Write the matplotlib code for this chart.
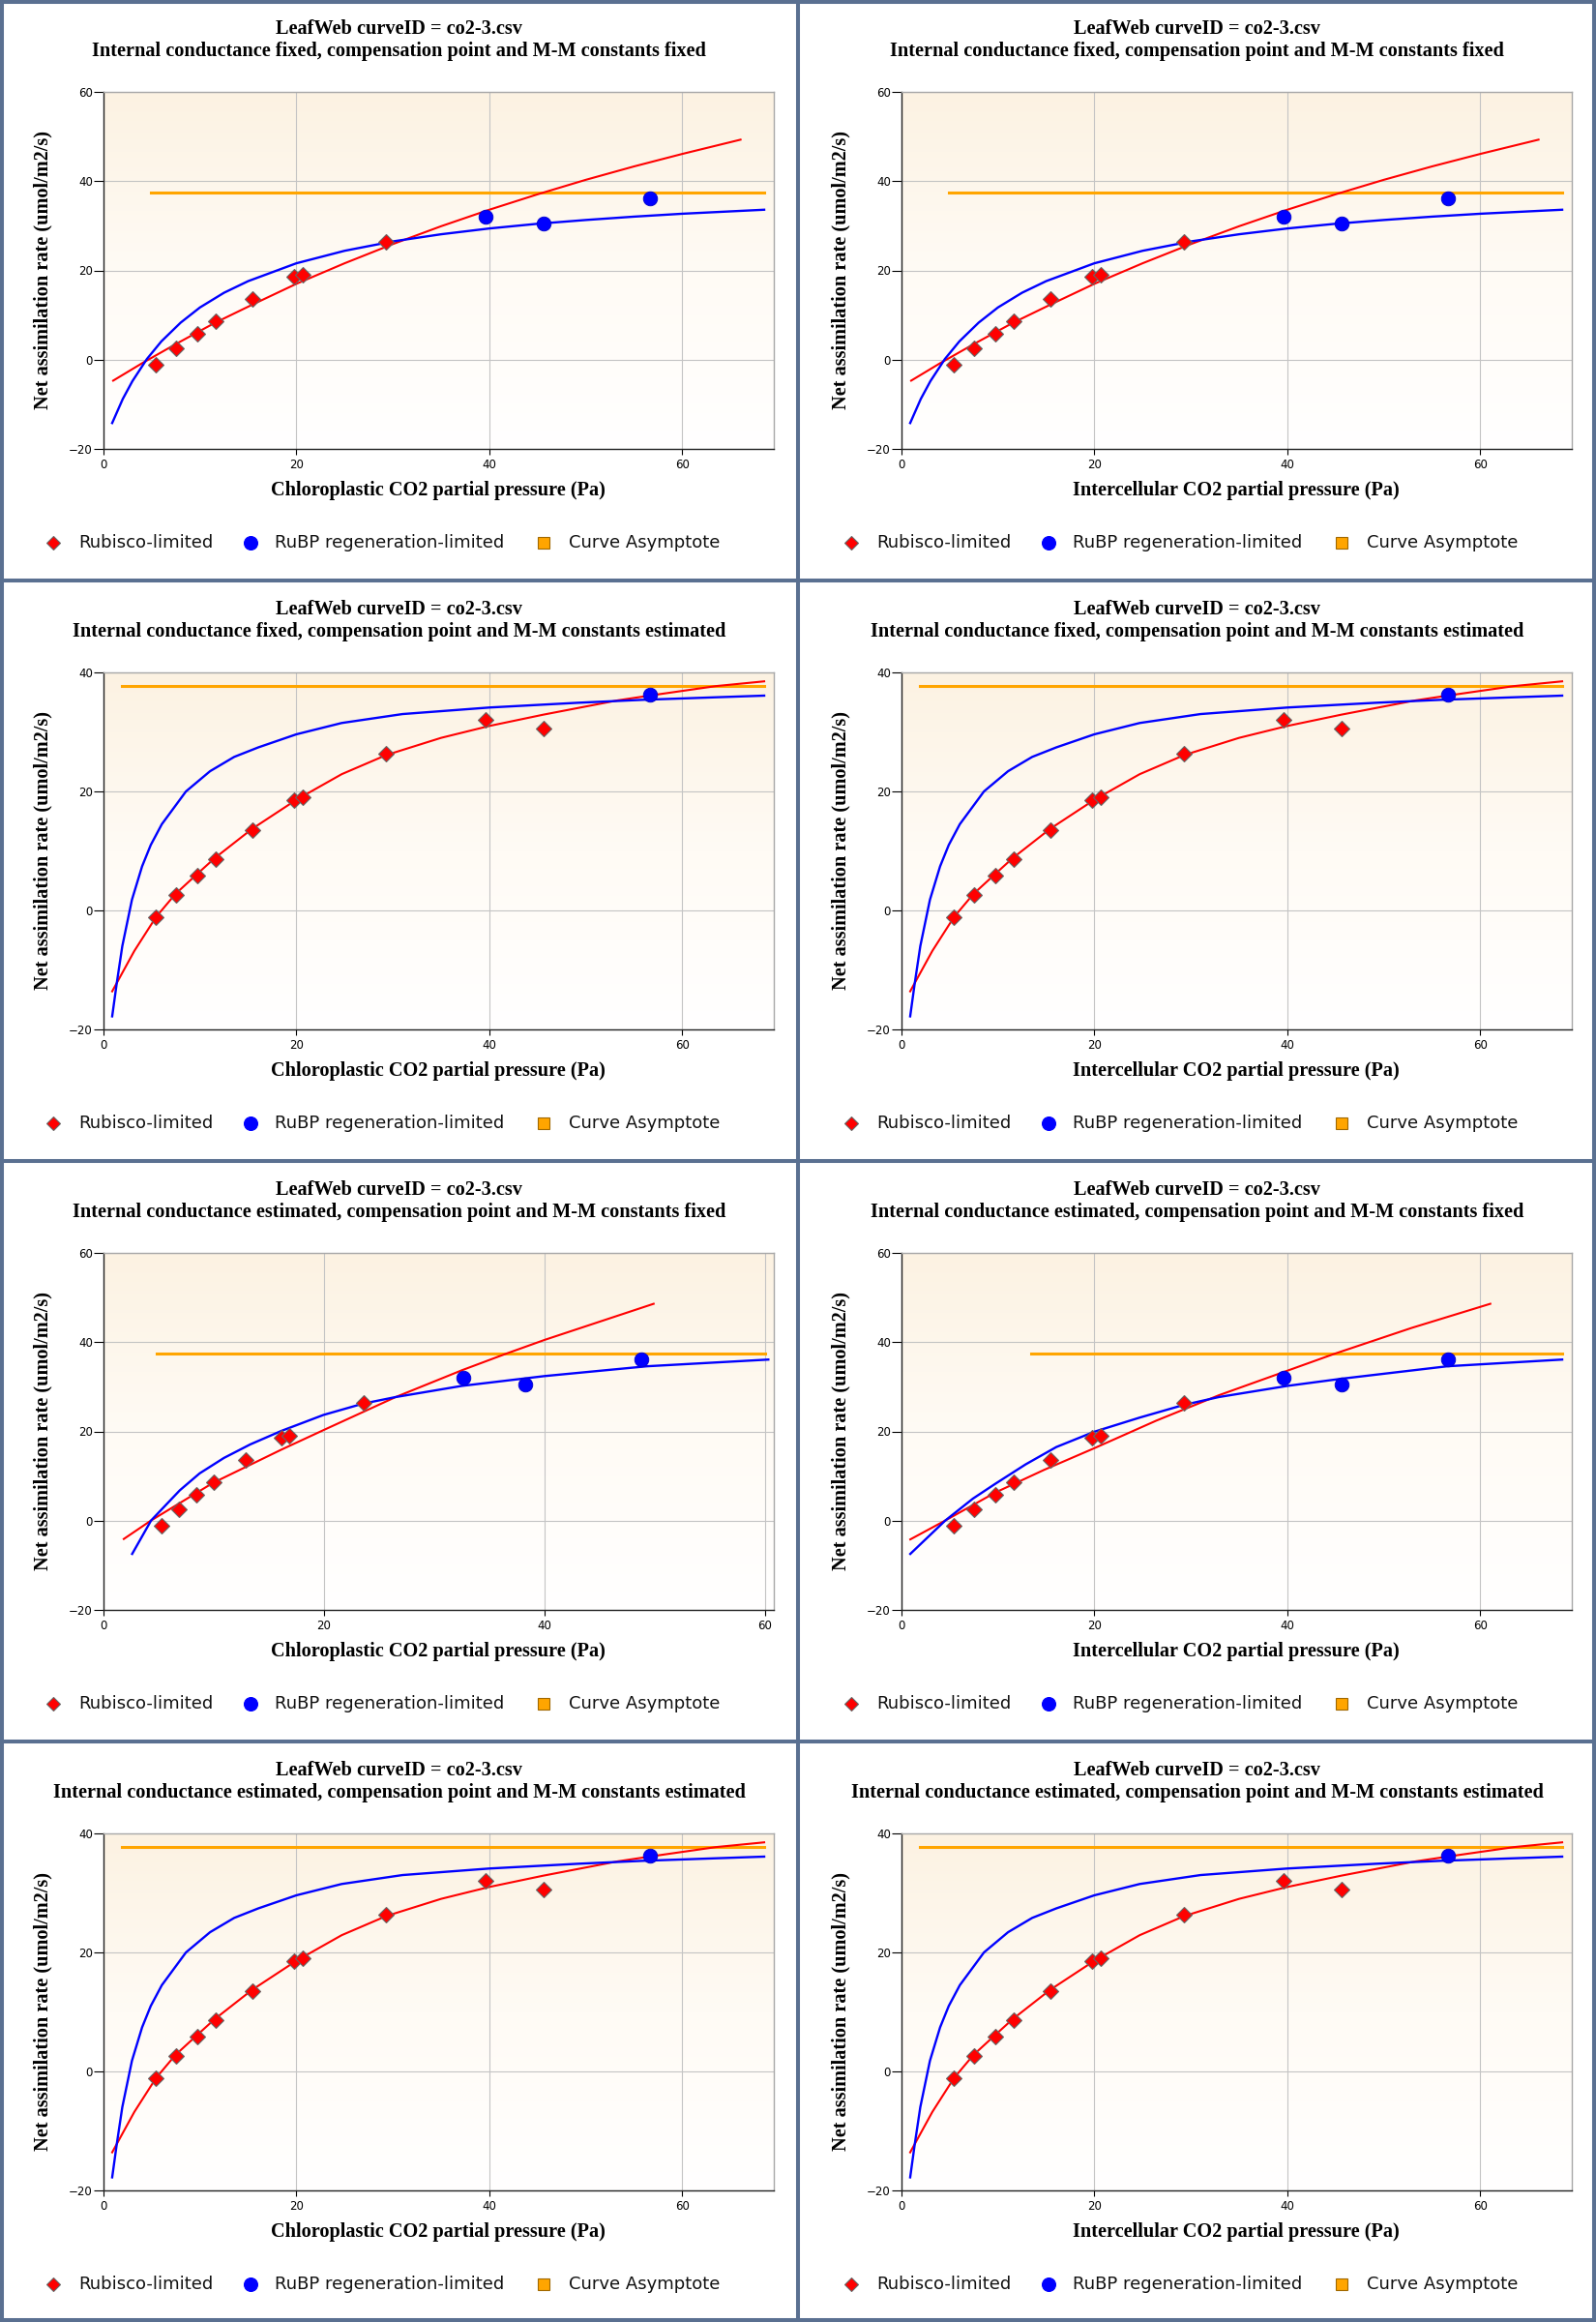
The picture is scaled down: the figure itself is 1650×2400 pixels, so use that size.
import numpy as np
import matplotlib
matplotlib.use("Agg")
import matplotlib.pyplot as plt
from matplotlib.lines import Line2D
from matplotlib.colors import LinearSegmentedColormap

# ---------------- data ----------------
# observed points (same A values in every panel)
a_obs = [-1.2, 2.65, 5.85, 8.55, 13.5, 18.55, 18.95, 26.4, 32.1, 30.5, 36.2]
# CO2 partial pressure of the points, internal conductance fixed (Cc = Ci)
c_obs_fixed = [5.45, 7.5, 9.7, 11.6, 15.4, 19.75, 20.7, 29.3, 39.65, 45.65, 56.65]
# chloroplastic CO2 when the internal conductance is estimated
c_obs_gm = [5.23, 6.8, 8.45, 9.96, 12.86, 16.13, 16.84, 23.58, 32.67, 38.27, 48.74]
# which limitation each point was assigned to
lim_fixed = ["rubisco"] * 8 + ["rubp"] * 3
lim_est = ["rubisco"] * 10 + ["rubp"] * 1

# fit A: gm fixed, compensation point / M-M fixed
a_red_x = [1, 4, 7.5, 11.5, 15.5, 20, 25, 30, 35, 40, 45, 50, 55, 60, 66.05]
a_red_y = [-4.7, -0.8, 3.5, 8.2, 12.4, 17.0, 21.6, 25.9, 29.9, 33.6, 37.05, 40.3, 43.3, 46.1, 49.3]
a_blue_x = [0.9, 2, 3, 4.5, 6, 8, 10, 12.5, 15, 20, 25, 30, 35, 40, 45, 50, 55, 60, 68.5]
a_blue_y = [-14.2, -8.8, -4.8, 0.15, 4.1, 8.3, 11.7, 15.0, 17.6, 21.6, 24.4, 26.5, 28.1, 29.4,
            30.45, 31.3, 32.05, 32.7, 33.6]
a_asym_x = [4.9, 68.5]
a_asym_y = 37.5

# fit B: compensation point / M-M estimated (same in both gm cases)
b_red_x = [0.9, 3.2, 5.45, 7.45, 9.7, 11.5, 15.4, 20, 24.7, 29.3, 35, 40, 45.6, 53.3, 56.6, 63.5, 68.5]
b_red_y = [-13.6, -6.8, -1.1, 2.75, 6.1, 8.75, 13.7, 18.6, 22.9, 26.1, 29.0, 31.0, 32.9, 35.3, 36.1, 37.7, 38.5]
b_blue_x = [0.9, 1.35, 1.95, 2.95, 4.0, 4.9, 6.05, 8.55, 11.05, 13.55, 16.05, 20, 24.7, 31, 40, 49.2, 56, 68.5]
b_blue_y = [-17.8, -12.5, -6.0, 1.8, 7.4, 11.0, 14.5, 20.0, 23.4, 25.8, 27.4, 29.6, 31.5, 33.0, 34.1,
            34.9, 35.4, 36.1]
b_asym_x = [1.95, 68.5]
b_asym_y = 37.7

# fit C: gm estimated, chloroplastic axis
c_red_x = [1.84, 4.32, 9.92, 16.12, 19.96, 26.5, 32.5, 36.5, 40, 49.9]
c_red_y = [-4.1, 0.05, 8.45, 15.9, 20.3, 27.7, 33.7, 37.4, 40.5, 48.6]
c_blue_x = [2.6, 4.32, 6.92, 8.72, 10.92, 13.32, 16.12, 19.96, 23.5, 26.5, 32.5, 40, 49.3, 60.3]
c_blue_y = [-7.45, 0.05, 6.8, 10.6, 14.05, 17.1, 20.1, 23.7, 26.2, 27.7, 30.2, 32.4, 34.6, 36.1]
c_asym_x = [4.84, 60.0]
c_asym_y = 37.5

# fit D: gm estimated, intercellular axis
d_red_x = [0.91, 4.55, 9.68, 14.8, 19.95, 26.4, 32.9, 40, 44.9, 52.9, 61.05]
d_red_y = [-4.2, 0.05, 6.25, 11.4, 16.2, 22.4, 28.1, 33.6, 37.4, 43.2, 48.6]
d_blue_x = [0.91, 4.55, 7.41, 9.68, 12.86, 16.05, 19.95, 24.7, 29.2, 32.9, 40, 45.6, 56.6, 68.5]
d_blue_y = [-7.45, 0.05, 4.95, 8.2, 12.6, 16.5, 19.9, 23.1, 25.9, 27.7, 30.2, 31.8, 34.6, 36.1]
d_asym_x = [13.4, 68.5]
d_asym_y = 37.5

title1 = "LeafWeb curveID = co2-3.csv"
subtitles = [
    "Internal conductance fixed, compensation point and M-M constants fixed",
    "Internal conductance fixed, compensation point and M-M constants estimated",
    "Internal conductance estimated, compensation point and M-M constants fixed",
    "Internal conductance estimated, compensation point and M-M constants estimated",
]
xlab_cc = "Chloroplastic CO2 partial pressure (Pa)"
xlab_ci = "Intercellular CO2 partial pressure (Pa)"
ylab = "Net assimilation rate (umol/m2/s)"
leg_labels = ["Rubisco-limited", "RuBP regeneration-limited", "Curve Asymptote"]

RED = "#ff0000"
BLUE = "#0000ff"
ORANGE = "#ffa500"
BORDER = "#5a7091"
SERIF = "Liberation Serif"
TFS = 14.6

W, H = 1650, 2400
PW, PH = 825, 600
fig = plt.figure(figsize=(W / 100, H / 100), dpi=100)
fig.patch.set_facecolor("white")

bg = LinearSegmentedColormap.from_list("bg", ["#ffffff", "#fffbf5", "#fcf2e2"])
grad = np.linspace(0, 1, 256).reshape(-1, 1)


def fx(px):
    return px / W


def fy(py):
    return 1 - py / H


def draw_panel(col, row, c_obs, lims, red, blue, asym, ylim, xmax, xlabel, sub):
    x0, y0 = col * PW, row * PH
    ax = fig.add_axes([fx(x0 + 107), fy(y0 + 464), 693 / W, 369 / H])
    ax.imshow(grad, extent=[0, 1, 0, 1], transform=ax.transAxes, origin="lower",
              aspect="auto", cmap=bg, zorder=0)
    ax.grid(True, color="#c4c4c4", lw=0.8, zorder=1)
    ax.set_axisbelow(True)

    ax.plot(asym[0], [asym[1]] * len(asym[0]), color=ORANGE, lw=2.2, zorder=3)
    ax.plot(red[0], red[1], color=RED, lw=1.5, zorder=4)
    ax.plot(blue[0], blue[1], color=BLUE, lw=1.7, zorder=4)

    rx = [c for c, l in zip(c_obs, lims) if l == "rubisco"]
    ry = [a for a, l in zip(a_obs, lims) if l == "rubisco"]
    jx = [c for c, l in zip(c_obs, lims) if l == "rubp"]
    jy = [a for a, l in zip(a_obs, lims) if l == "rubp"]
    ax.plot(rx, ry, ls="none", marker="D", ms=8, mfc=RED, mec="#666666", mew=0.8, zorder=5)
    ax.plot(jx, jy, ls="none", marker="o", ms=10.5, mfc=BLUE, mec="#0000cc", mew=0.6, zorder=5)

    ax.set_xlim(0, xmax)
    ax.set_ylim(*ylim)
    ax.set_xticks([0, 20, 40, 60])
    ax.set_yticks(list(range(ylim[0], ylim[1] + 1, 20)))
    ax.tick_params(axis="y", direction="out", length=7, width=0.8, pad=1, labelsize=8.5)
    ax.tick_params(axis="x", direction="out", length=4.5, width=0.8, pad=3, labelsize=8.5)
    for s in ["left", "bottom"]:
        ax.spines[s].set_color("#222222")
        ax.spines[s].set_linewidth(1.0)
    for s in ["top", "right"]:
        ax.spines[s].set_color("#a8a8a8")
        ax.spines[s].set_linewidth(1.0)

    cx = x0 + PW / 2
    fig.text(fx(cx), fy(y0 + 30), title1, ha="center", va="center",
             family=SERIF, weight="bold", fontsize=TFS)
    fig.text(fx(cx), fy(y0 + 53), sub, ha="center", va="center",
             family=SERIF, weight="bold", fontsize=TFS)
    fig.text(fx(x0 + 453), fy(y0 + 507), xlabel, ha="center", va="center",
             family=SERIF, weight="bold", fontsize=TFS)
    fig.text(fx(x0 + 44), fy(y0 + 279), ylab, ha="center", va="center", rotation=90,
             family=SERIF, weight="bold", fontsize=TFS)

    # legend row
    ly = fy(y0 + 561)
    items = [(55, 81, "D", RED, "#666666", 7.5),
             (259, 284, "o", BLUE, BLUE, 10),
             (562, 588, "s", ORANGE, "#a06800", 9)]
    for (mx, tx, mk, fc, ec, ms), lab in zip(items, leg_labels):
        fig.add_artist(Line2D([fx(x0 + mx)], [ly], transform=fig.transFigure, ls="none",
                              marker=mk, ms=ms, mfc=fc, mec=ec, mew=0.8))
        fig.text(fx(x0 + tx), ly, lab, ha="left", va="center", fontsize=13,
                 family="DejaVu Sans", color="#111111")


A = dict(red=(a_red_x, a_red_y), blue=(a_blue_x, a_blue_y), asym=(a_asym_x, a_asym_y),
         ylim=(-20, 60))
B = dict(red=(b_red_x, b_red_y), blue=(b_blue_x, b_blue_y), asym=(b_asym_x, b_asym_y),
         ylim=(-20, 40))
C = dict(red=(c_red_x, c_red_y), blue=(c_blue_x, c_blue_y), asym=(c_asym_x, c_asym_y),
         ylim=(-20, 60))
D = dict(red=(d_red_x, d_red_y), blue=(d_blue_x, d_blue_y), asym=(d_asym_x, d_asym_y),
         ylim=(-20, 60))

draw_panel(0, 0, c_obs_fixed, lim_fixed, xmax=69.5, xlabel=xlab_cc, sub=subtitles[0], **A)
draw_panel(1, 0, c_obs_fixed, lim_fixed, xmax=69.5, xlabel=xlab_ci, sub=subtitles[0], **A)
draw_panel(0, 1, c_obs_fixed, lim_est, xmax=69.5, xlabel=xlab_cc, sub=subtitles[1], **B)
draw_panel(1, 1, c_obs_fixed, lim_est, xmax=69.5, xlabel=xlab_ci, sub=subtitles[1], **B)
draw_panel(0, 2, c_obs_gm, lim_fixed, xmax=60.8, xlabel=xlab_cc, sub=subtitles[2], **C)
draw_panel(1, 2, c_obs_fixed, lim_fixed, xmax=69.5, xlabel=xlab_ci, sub=subtitles[2], **D)
draw_panel(0, 3, c_obs_fixed, lim_est, xmax=69.5, xlabel=xlab_cc, sub=subtitles[3], **B)
draw_panel(1, 3, c_obs_fixed, lim_est, xmax=69.5, xlabel=xlab_ci, sub=subtitles[3], **B)

# panel borders
bw = 2.9
for xp in [2, 825, 1648]:
    fig.add_artist(Line2D([fx(xp), fx(xp)], [0, 1], transform=fig.transFigure, color=BORDER, lw=bw))
for yp in [2, 600, 1200, 1800, 2398]:
    fig.add_artist(Line2D([0, 1], [fy(yp), fy(yp)], transform=fig.transFigure, color=BORDER, lw=bw))

fig.savefig("out.png", dpi=100)
